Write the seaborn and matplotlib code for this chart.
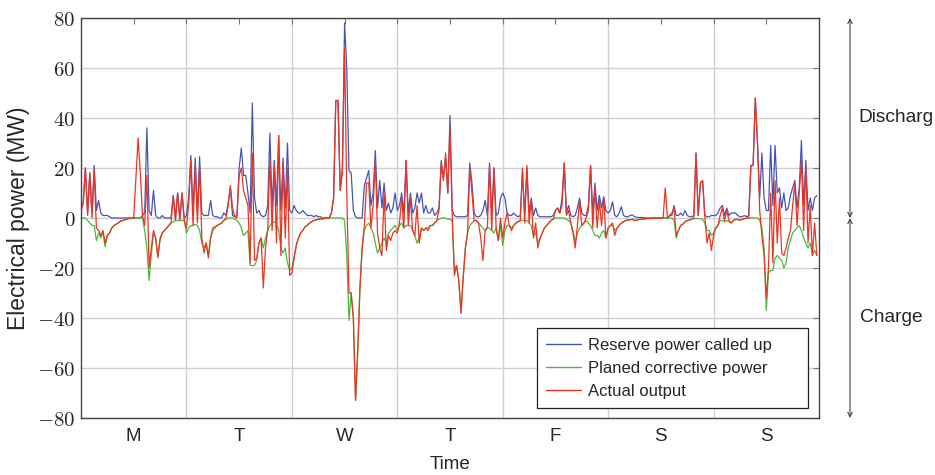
import matplotlib
matplotlib.use("Agg")
import matplotlib.pyplot as plt
import numpy as np
import pandas as pd
import seaborn as sns

sns.set_style("white")
plt.rcParams["font.family"] = ["Liberation Sans", "DejaVu Sans"]
plt.rcParams["mathtext.fontset"] = "cm"
plt.rcParams["font.size"] = 12

# half-hourly values, one row of 12 = 6 hours, 4 rows per day (Mon..Sun)
day_labels = ["M", "T", "W", "T", "F", "S", "S"]
steps_per_day = 48

reserve = [
    3, 6, 20, 2, 18, 2, 21, 3, 7, 2, 1, 1,
    1, 0.5, 0, 0, 0, 0, 0, 0, 0, 0, 0, 0,
    0, 0, 0, 0, 1, 2, 36, 3, 1, 11, 1, 0,
    0, 1, 0, 0, 0, 0, 9, 0, 10, 0, 10, 0,
    # T
    1, 8, 25, 2, 24, 2, 24.5, 2, 1, 1, 1, 7,
    1, 0.5, 0.5, 0, 0, 2, 1, 6, 12, 1, 0.5, 1,
    20, 28, 17, 17, 10, 2, 46, 8, 2, 3, 1, 0.5,
    1, 5, 34, 4, 23, 5, 33, 3, 24, 4, 30, 3,
    # W
    2, 5, 3, 2, 2, 3, 2, 1, 1, 1, 0.5, 1,
    0.5, 0.5, 0, 0, 0, 0, 2, 8, 47, 47, 11, 20,
    78, 60, 19, 18, 3, 0.5, 0, 0, 0, 13, 16, 19,
    5, 10, 27, 4, 15, 4, 14, 3, 6, 2, 4, 10,
    # T
    3, 5, 10, 2, 23, 2, 10, 2, 4, 10, 6, 10,
    2, 5, 2, 2, 4, 1, 2, 4, 23, 16, 24, 10,
    41, 3, 1, 0.5, 0.5, 0.5, 0.5, 0.5, 1, 22, 14, 2,
    0.5, 0.5, 1, 3, 7, 1, 22, 1, 20, 1, 2, 8,
    # F
    10, 8, 2, 1, 1, 2, 1, 0.5, 1, 18, 2, 20,
    2, 8, 1, 4, 1, 0.5, 0.5, 0.5, 0.5, 0.5, 0.5, 1,
    3, 4, 2, 8, 22, 2, 5, 1, 0.5, 1, 4, 8,
    2, 1, 1, 5, 21, 2, 14, 3, 9, 4, 8.5, 3,
    # S
    2, 3, 6.5, 1, 0.5, 2, 4.5, 1, 0.5, 0.5, 1, 1.2,
    0.5, 0.3, 0.2, 0.2, 0.1, 0.1, 0, 0, 0, 0, 0, 0,
    0, 0, 0, 0, 1, 1, 5, 1, 1, 2, 1, 3,
    1, 0.5, 0.5, 1, 26, 1, 14, 15, 1, 0.5, 0.5, 1,
    # S
    1, 1, 2, 4, 5, 1, 4, 1, 2, 2, 2, 1,
    0.5, 0.5, 1, 0.5, 1, 21, 21, 48, 30, 8, 26, 8,
    3, 3, 29, 5, 29, 10, 12, 4, 10, 3, 4, 9,
    12, 15, 4, 12, 31, 5, 23, 3, 8, 3, 8, 9,
]

corrective = [
    0, 0, 0, -1, -2, -3, -3, -9, -6, -8, -6, -11.5,
    -7, -6, -4, -3, -2.5, -2, -1.2, -1, -0.7, -0.4, -0.2, 0,
    0, 0, 0, 0, 0, -5, -12, -25, -15, -6, -8, -15,
    -9, -6, -5, -4, -3, -2, -1.5, -1, -1, -1, -1, -1,
    # T
    -6, -4, -3, -3, -2.5, -3, -5, -10, -12, -10, -15, -8,
    -5, -4, -3, -2.5, -2, -1, -0.5, 0, 0, 0, -0.5, -1,
    -2, -4, -7, -6, -5, -19, -19, -19, -17, -10, -8, -12,
    -8, -5, -3, -2, -1.5, -2, -5, -12, -14, -12, -18, -21,
    # W
    -20, -16, -11, -8, -6, -5, -3.5, -3, -2, -1.5, -1, -0.8,
    -0.5, -0.4, -0.3, -0.2, 0, 0, 0, 0, 0, 0, 0, 0,
    -1, -15, -41, -30, -40, -73, -53, -28, -12, -5, -3, -2,
    -4, -6, -10, -14, -12, -10, -8, -10, -6, -5, -4, -3,
    # T
    -5, -3, -2, -4, -3, -3, -3, -5, -7, -10, -8, -4,
    -5, -4, -4, -3, -3, -2, -1, -0.5, 0, 0, 0, -0.5,
    -0.5, -1, -21, -19, -25, -38, -24, -12, -6, -3, -2, -1,
    -1, -2, -3, -4, -5, -4, -4, -5, -6, -4, -9, -3,
    # F
    -11, -5, -3, -3, -4, -3, -2, -1.5, -1, -1, -1, -1,
    -2, -3, -7, -6, -10, -8, -6, -4, -3, -2, -1, -0.5,
    0, 0, 0, 0, 0, -0.5, -1, -2, -5, -10, -6, -4,
    -3, -2, -1, -2, -3, -5, -7, -7, -8, -6, -5, -8,
    # S
    -4, -3, -3, -5, -4, -3, -2, -1.5, -1, -0.8, -0.7, -0.5,
    -1, -0.8, -0.6, -0.5, -0.4, -0.3, -0.2, -0.2, -0.1, -0.1, 0, 0,
    0, 0, 0, 0, 0, 0, -1, -8, -5, -3, -2.5, -1.5,
    -1, -0.8, -0.5, -0.3, -0.2, -0.2, -0.3, -0.5, -2, -5, -5, -7,
    # S
    -6, -4, -3, -1, -1, -1.5, -1, -1.5, -2, -1, -0.8, -0.5,
    -1, -0.5, -0.3, 0, 0, 0, 0, 0, 0, -1, -4, -12,
    -37, -22, -21, -21, -16, -15, -16, -17, -20, -18, -12, -9,
    -6, -5, -4, -3, -5, -8, -10, -12, -10, -15, -13, -15,
]

actual = [
    3, 6, 20, 1, 18, 0, 19, -4, -5, -7, -5, -10,
    -7, -6, -4, -3, -2.5, -2, -1.2, -1, -0.7, -0.4, -0.2, 0,
    0, 16, 32, 18, 1, -3, 17, -20, -12, -5, -8, -16,
    -8, -6, -5, -4, -3, -2, 9, -1, 10, -1, 10, -1,
    # T
    -4, 5, 23, -3, 21, -2, 21, -8, -14, -10, -16, -8,
    -4, -3.5, -3, -2.5, -2, -1, 0, 5, 13, 4, 0.5, 0,
    17, 20, 11, 8, 5, -18, 26, -17, -16, -10, -8, -28,
    -12, -5, 24, -5, 21, -10, 33, -15, 22, -8, 20, -23,
    # W
    -22, -16, -11, -8, -6, -5, -3.5, -3, -2, -1.5, -1, -0.8,
    -0.5, -0.4, -0.3, -0.2, 0, 0, 2, 8, 47, 47, 11, 18,
    68, 10, -30, -30, -40, -73, -53, -28, -12, -3, 14, 14,
    -4, 5, 23, -6, -12, -15, 10, -13, -7, -9, -6, -5,
    # T
    -6, -2, 8, -4, 23, -3, 8, -5, -7, 5, -10, -4,
    -5, -4, -5, -3, -3, -2, -1, 3, 22, 15, 26, 10,
    36, 2, -23, -19, -25, -38, -24, -12, -6, 20, 10, -1,
    -1, -2, -8, -17, -5, -4, 21, -5, 20, -4, -9, 0,
    # F
    -8, -2, 2, -3, -5, -3, -2, -1.5, -1, 20, -2, 21,
    -2, 7, -8, -2, -12, -8, -6, -4, -3, -2, -1, -0.5,
    3, 4, 2, 5, 22, 1, 3, -2, -6, -12, -3, 7,
    -3, -2, 0, 3, 21, -4, 12, -4, 7, -3, 8, -8,
    # S
    -4, -3, -2, -7, -4, -3, -2, -1.5, -1, -0.8, -0.7, -0.5,
    -1, -0.8, -0.6, -0.5, -0.4, -0.3, -0.2, -0.2, -0.1, -0.1, 0, 0,
    0, 0, 12, 0, 1, 2, 4, -7, -5, -3, -2.5, -1.5,
    -1, -0.8, -0.5, 0, 26, 1, 14, 15, 1, -10, -6, -13,
    # S
    -7, -4, -3, 1, 4, -1, 3, -1, -2, -1, -0.5, -0.5,
    -1, -0.5, -0.3, 0, 0, 21, 21, 48, 30, 3, -7, -15,
    -32, -20, 10, -18, 15, -10, 8, -14, -15, -12, -8, -5,
    5, 14, -3, 10, 23, -5, 21, -10, 5, -15, -2, -15,
]

series_names = ["Reserve power called up", "Planed corrective power", "Actual output"]
colors = ["#4656b0", "#4cb83c", "#ec3424"]

t = np.arange(len(reserve)) / steps_per_day
df = pd.DataFrame({"day": t, series_names[0]: reserve,
                   series_names[1]: corrective, series_names[2]: actual})
df = df.melt(id_vars="day", var_name="series", value_name="MW")

fig = plt.figure(figsize=(9.35, 4.75), dpi=100)
ax = fig.add_axes([81 / 935, 57 / 475, 738 / 935, 400 / 475])

sns.lineplot(data=df, x="day", y="MW", hue="series", hue_order=series_names,
             palette=colors, linewidth=0.9, estimator=None, sort=False, ax=ax)

ax.set_xlim(0, 7)
ax.set_ylim(-80, 80)
ax.set_xticks(np.arange(0.5, 7, 1))
ax.set_xticklabels(day_labels, fontsize=13.5)
ax.set_xticks(np.arange(1, 7), minor=True)
yt = np.arange(-80, 81, 20)
ax.set_yticks(yt)
ax.set_yticklabels([f"${v}$" for v in yt], fontsize=15)

ax.set_axisbelow(True)
ax.xaxis.grid(False, which="major")
ax.xaxis.grid(True, which="minor", color="#d0d0d0", lw=1)
ax.yaxis.grid(True, which="major", color="#d0d0d0", lw=1)
ax.tick_params(which="both", direction="in", top=True, right=True,
               length=4, width=0.8, color="#777777")
ax.tick_params(axis="x", pad=7)
ax.tick_params(axis="y", pad=4)
for s in ax.spines.values():
    s.set_color("#444444")
    s.set_linewidth(1.0)

ax.set_xlabel("Time", fontsize=13.5, labelpad=8)
ax.set_ylabel("Electrical power (MW)", fontsize=16.5, labelpad=5)

leg = ax.legend(loc="lower left", bbox_to_anchor=(0.6175, 0.024, 0.368, 0.2),
                mode="expand", borderaxespad=0,
                fontsize=12, frameon=True, fancybox=False, framealpha=1,
                edgecolor="#222222", handlelength=2.1, handletextpad=0.45,
                borderpad=0.55, labelspacing=0.5)
leg.get_frame().set_linewidth(0.9)
for h in leg.get_lines():
    h.set_linewidth(1.0)

# discharge / charge arrows on the right
arrow = dict(arrowstyle="<->", color="#444444", lw=0.8, shrinkA=0, shrinkB=0,
             mutation_scale=8)
ax.annotate("", xy=(1.042, 1.0), xytext=(1.042, 0.5), xycoords="axes fraction",
            arrowprops=arrow, annotation_clip=False)
ax.annotate("", xy=(1.042, 0.5), xytext=(1.042, 0.0), xycoords="axes fraction",
            arrowprops=arrow, annotation_clip=False)
ax.text(1.054, 0.75, "Discharg", transform=ax.transAxes, ha="left", va="center",
        fontsize=13.8, clip_on=False)
ax.text(1.055, 0.25, "Charge", transform=ax.transAxes, ha="left", va="center",
        fontsize=13.8, clip_on=False)

fig.savefig("out.png", dpi=100)
